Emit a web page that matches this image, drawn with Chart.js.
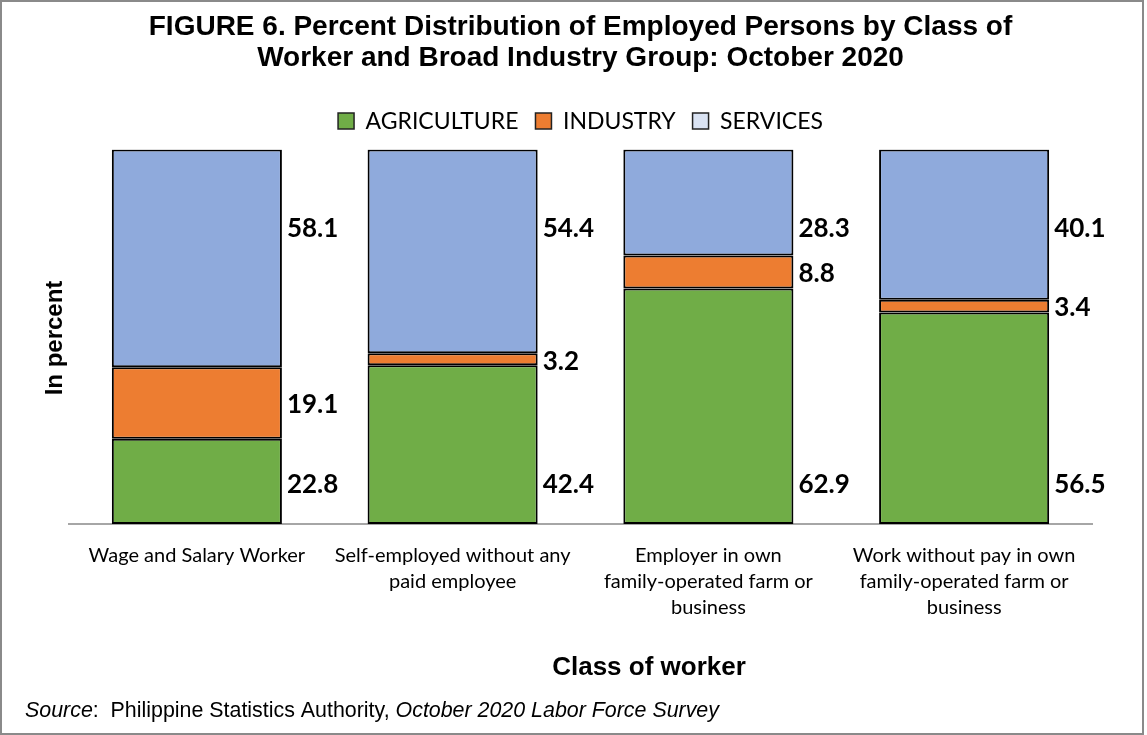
<!DOCTYPE html>
<html>
<head>
<meta charset="utf-8">
<script src="https://cdn.jsdelivr.net/npm/chart.js@4.4.1/dist/chart.umd.min.js"></script>
<style>
  html, body { margin: 0; padding: 0; background: #fff; }
  #wrap { position: relative; width: 1147px; height: 735px; }
  #frame { position: absolute; left: 0; top: 0; width: 1140px; height: 731px; border: 2px solid #8a8a8a; pointer-events: none; }
  canvas { position: absolute; left: 0; top: 0; }
</style>
</head>
<body>
<div id="wrap">
  <canvas id="c" width="1147" height="735"></canvas>
  <div id="frame"></div>
</div>
<script>
// ---- data ----
const categories = [
  ["Wage and Salary Worker"],
  ["Self-employed without any", "paid employee"],
  ["Employer in own", "family-operated farm or", "business"],
  ["Work without pay in own", "family-operated farm or", "business"]
];
const seriesNames = ["AGRICULTURE", "INDUSTRY", "SERVICES"];
const agriculture = [22.8, 42.4, 62.9, 56.5];
const industry = [19.1, 3.2, 8.8, 3.4];
const services = [58.1, 54.4, 28.3, 40.1];

const colors = ["#70AD47", "#ED7D31", "#8FAADC"];
const legendFills = ["#70AD47", "#ED7D31", "#DAE3F3"];

const labelFont = "bold 26px Lato, 'Noto Sans', sans-serif";

const labelsPlugin = {
  id: 'segLabels',
  afterDatasetsDraw(chart) {
    const ctx = chart.ctx;
    const y = chart.scales.y;
    ctx.save();
    ctx.font = labelFont;
    ctx.fillStyle = '#000';
    ctx.textBaseline = 'middle';
    ctx.textAlign = 'left';
    chart.data.datasets.forEach((ds, di) => {
      const meta = chart.getDatasetMeta(di);
      meta.data.forEach((bar, i) => {
        const v = ds.data[i];
        let py;
        if (di === 0) py = y.getPixelForValue(10.5);
        else if (di === 1) py = (bar.y + bar.base) / 2 + 2;
        else py = y.getPixelForValue(79);
        ctx.fillText(v.toFixed(1), bar.x + bar.width / 2 + 5, py);
      });
    });
    ctx.restore();
  }
};

const legendSpace = {
  id: 'legendSpace',
  beforeInit(chart) {
    const orig = chart.legend.fit;
    chart.legend.fit = function () {
      orig.call(this);
      this.height += 7;
    };
  }
};

const extrasPlugin = {
  id: 'extras',
  afterDraw(chart) {
    const ctx = chart.ctx;
    ctx.save();
    // y axis title
    ctx.translate(55, 338);
    ctx.rotate(-Math.PI / 2);
    ctx.font = "bold 24px 'Liberation Sans', Arial, sans-serif";
    ctx.fillStyle = '#000';
    ctx.textAlign = 'center';
    ctx.textBaseline = 'middle';
    ctx.fillText('In percent', 0, 0);
    ctx.restore();

    // x axis title
    ctx.save();
    ctx.font = "bold 26px 'Liberation Sans', Arial, sans-serif";
    ctx.fillStyle = '#000';
    ctx.textAlign = 'center';
    ctx.textBaseline = 'middle';
    ctx.fillText('Class of worker', 649, 668);
    ctx.restore();

    // source line
    ctx.save();
    ctx.fillStyle = '#000';
    ctx.textBaseline = 'middle';
    ctx.textAlign = 'left';
    const parts = [
      ["italic 21.4px 'Liberation Sans', Arial, sans-serif", "Source"],
      ["21.4px 'Liberation Sans', Arial, sans-serif", ":  Philippine Statistics Authority, "],
      ["italic 21.4px 'Liberation Sans', Arial, sans-serif", "October 2020 Labor Force Survey"]
    ];
    let x = 25;
    parts.forEach(([f, t]) => {
      ctx.font = f;
      ctx.fillText(t, x, 711);
      x += ctx.measureText(t).width;
    });
    ctx.restore();
  }
};

new Chart(document.getElementById('c'), {
  type: 'bar',
  data: {
    labels: categories,
    datasets: [
      { label: seriesNames[0], data: agriculture, backgroundColor: colors[0] },
      { label: seriesNames[1], data: industry, backgroundColor: colors[1] },
      { label: seriesNames[2], data: services, backgroundColor: colors[2] }
    ].map(d => Object.assign(d, {
      borderColor: '#000', borderWidth: 2, borderSkipped: false,
      categoryPercentage: 0.665, barPercentage: 1
    }))
  },
  options: {
    responsive: false,
    animation: false,
    devicePixelRatio: 1,
    layout: { padding: { left: 69, right: 55, top: 0, bottom: 95 } },
    plugins: {
      title: {
        display: true,
        text: ["FIGURE 6. Percent Distribution of Employed Persons by Class of",
               "Worker and Broad Industry Group: October 2020"],
        color: '#000',
        font: { family: "'Liberation Sans', Arial, sans-serif", size: 28, weight: 'bold', lineHeight: 1.1 },
        padding: { top: 12, bottom: 19 }
      },
      legend: {
        display: true,
        position: 'top',
        labels: {
          color: '#000',
          font: { family: "Lato, 'Noto Sans', sans-serif", size: 23 },
          boxWidth: 16, boxHeight: 16,
          padding: 17,
          generateLabels(chart) {
            return chart.data.datasets.map((ds, i) => ({
              text: ds.label,
              fillStyle: legendFills[i],
              strokeStyle: '#222',
              lineWidth: 1.5,
              datasetIndex: i,
              hidden: false,
              fontColor: '#000'
            }));
          }
        }
      },
      tooltip: { enabled: false }
    },
    scales: {
      x: {
        stacked: true,
        grid: { display: false, drawTicks: false },
        border: { display: true, color: '#A6A6A6', width: 2 },
        ticks: {
          color: '#000',
          font: { family: "Lato, 'Noto Sans', sans-serif", size: 20, lineHeight: 1.3 },
          padding: 19,
          maxRotation: 0, minRotation: 0, autoSkip: false
        }
      },
      y: {
        stacked: true,
        display: false,
        min: 0, max: 100
      }
    }
  },
  plugins: [legendSpace, labelsPlugin, extrasPlugin]
});
</script>
</body>
</html>
